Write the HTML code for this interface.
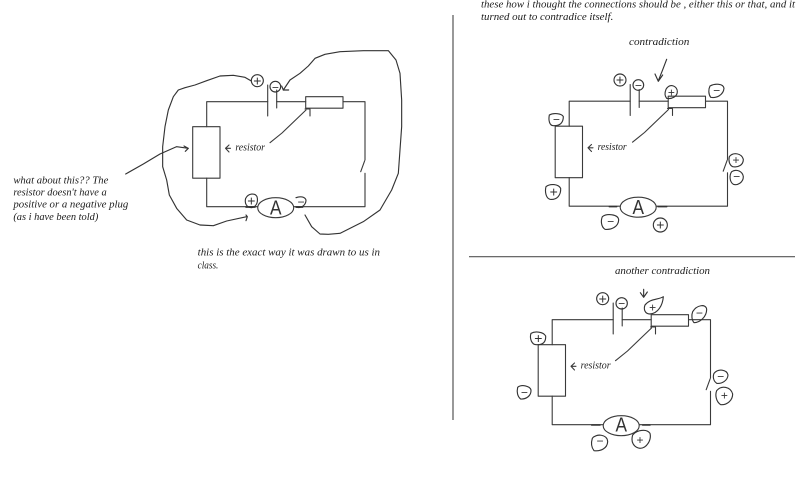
<!DOCTYPE html>
<html>
<head>
<meta charset="utf-8">
<style>
html,body{margin:0;padding:0;background:#fff;width:800px;height:487px;overflow:hidden}
svg{display:block;filter:blur(.3px)}
text{font-family:"Liberation Serif",serif;font-style:italic;fill:#1c1c1c}
.z path,.z ellipse,.z circle,.z rect{fill:none;stroke:#333;stroke-width:3.4;stroke-linejoin:round;stroke-linecap:round}
.z .m{font-style:normal;font-family:"Liberation Sans",sans-serif;font-size:42px;text-anchor:middle;fill:#333}
.z .t{font-size:30px}
.a{font-family:"Liberation Sans",sans-serif;font-style:normal;font-size:20px;fill:#333}
</style>
</head>
<body>
<svg width="800" height="487" viewBox="0 0 800 487" xmlns="http://www.w3.org/2000/svg">
<defs>
<g id="circuit" fill="none" stroke="#3a3a3a" stroke-width="1.1" stroke-linecap="round" stroke-linejoin="round">
  <path d="M267.7 101.7H206.7V126.7M206.7 178V206.7H257.7M294 206.7H365V173.3M365 160V101.7H343M305.7 101.7H276.7"/>
  <path d="M360.7 171.7L364.7 160.7"/>
  <rect x="192.7" y="126.7" width="27.3" height="51.5"/>
  <rect x="305.7" y="96.7" width="37.3" height="11.5"/>
  <path d="M267.7 85V116M276.7 90V108"/>
  <ellipse cx="275.7" cy="207.7" rx="18" ry="10"/>
  <path d="M270 142.7L282 133L306 110M305 109L310 109V116"/>
  <path d="M230.5 148.3H225.5M229 145L225.5 148.3L229 152"/>
</g>
</defs>

<rect width="800" height="487" fill="#fff"/>
<path d="M453 15V420" stroke="#555" stroke-width="1.2" fill="none"/>
<path d="M469 256.7H795" stroke="#555" stroke-width="1.2" fill="none"/>

<use href="#circuit"/>
<use href="#circuit" x="362.5" y="-0.5"/>
<use href="#circuit" x="345.5" y="218"/>

<text class="a" x="270" y="214.5" textLength="11.5" lengthAdjust="spacingAndGlyphs">A</text>
<text class="a" x="632.5" y="214" textLength="11.5" lengthAdjust="spacingAndGlyphs">A</text>
<text class="a" x="615.5" y="431.5" textLength="11.5" lengthAdjust="spacingAndGlyphs">A</text>

<!-- Panel 1 -->
<g class="z" transform="translate(0,40) scale(.33333)">
  <path d="M752 122L735 112L700 106L660 108L620 122L585 135L555 143L535 150L520 170L505 210L495 260L488 320L488 380L500 420L508 465L530 505L560 540L600 555L640 557L680 543L740 530M738 525L742 530L738 542"/>
  <path d="M850 150L870 120L900 100L925 78L945 55L975 43L1020 35L1090 32L1165 32L1188 60L1200 100L1205 180L1205 260L1200 330L1195 400L1175 450L1140 510L1090 545L1020 580L985 583L960 582L935 560L915 525"/>
  <path d="M850 150L845 138M850 150L866 150"/>
  <path d="M377 402L430 372L480 342L530 320L565 325M552 318L565 325L556 334"/>
  <circle cx="772" cy="122" r="18"/>
  <circle cx="826" cy="140" r="16"/>
  <path d="M737 475C745 460 765 458 771 470C775 485 770 500 755 503C740 503 733 490 737 475Z"/>
  <path d="M888 473C900 468 915 470 918 480C918 495 905 505 890 502"/>
  <path d="M738 501H765M888 501H908" style="stroke-width:5"/>
  <text class="m" x="772" y="136">+</text>
  <text class="m" x="826" y="154" style="font-size:36px">−</text>
  <text class="m" x="754" y="497">+</text>
  <text class="m" x="903" y="498" style="font-size:36px">−</text>
  <text class="t" x="706" y="332" textLength="89" lengthAdjust="spacingAndGlyphs">resistor</text>
  <text class="t" x="40" y="430" textLength="285" lengthAdjust="spacingAndGlyphs">what about this?? The</text>
  <text class="t" x="40" y="467" textLength="280" lengthAdjust="spacingAndGlyphs">resistor doesn't have a</text>
  <text class="t" x="40" y="503" textLength="345" lengthAdjust="spacingAndGlyphs">positive or a negative plug</text>
  <text class="t" x="40" y="540" textLength="255" lengthAdjust="spacingAndGlyphs">(as i have been told)</text>
  <text class="t" x="593" y="647" textLength="547" lengthAdjust="spacingAndGlyphs">this is the exact way it was drawn to us in</text>
  <text class="t" x="593" y="685" textLength="62" lengthAdjust="spacingAndGlyphs">class.</text>
</g>

<!-- Panel 2 -->
<g class="z" transform="translate(450,0) scale(.33333)">
  <text class="t" x="93" y="22" textLength="942" lengthAdjust="spacingAndGlyphs">these how i thought the connections should be , either this or that, and it</text>
  <text class="t" x="93" y="60" textLength="397" lengthAdjust="spacingAndGlyphs">turned out to contradice itself.</text>
  <text class="t" x="537" y="135" textLength="181" lengthAdjust="spacingAndGlyphs">contradiction</text>
  <text class="t" x="443" y="450" textLength="87" lengthAdjust="spacingAndGlyphs">resistor</text>
  <path d="M650 178C640 205 632 225 625 242M615 222L625 244L638 225"/>
  <circle cx="510" cy="240" r="18"/>
  <circle cx="565" cy="255" r="16"/>
  <path d="M648 268C660 248 682 258 682 275C682 290 665 298 650 295C644 288 644 278 648 268Z"/>
  <path d="M780 258C795 250 820 250 822 265C820 285 800 295 782 292C775 282 775 268 780 258Z"/>
  <path d="M298 345C310 338 335 340 340 350C340 368 330 378 310 377C298 377 295 360 298 345Z"/>
  <path d="M288 560C300 550 325 552 332 565C333 585 322 600 300 598C288 595 284 575 288 560Z"/>
  <path d="M838 470C850 455 875 460 880 478C880 495 865 503 848 500C838 495 835 482 838 470Z"/>
  <path d="M845 515C860 505 878 515 880 530C880 548 862 557 850 553C838 545 838 525 845 515Z"/>
  <path d="M457 650C470 640 505 642 506 660C505 680 485 690 465 688C453 680 452 662 457 650Z"/>
  <circle cx="631" cy="675" r="21"/>
  <path d="M478 620H500M624 620H650" style="stroke-width:4.5"/>
  <text class="m" x="510" y="254">+</text>
  <text class="m" x="565" y="269" style="font-size:36px">−</text>
  <text class="m" x="664" y="289" style="font-size:36px">+</text>
  <text class="m" x="800" y="284" style="font-size:36px">−</text>
  <text class="m" x="319" y="370" style="font-size:36px">−</text>
  <text class="m" x="311" y="589">+</text>
  <text class="m" x="858" y="492" style="font-size:36px">+</text>
  <text class="m" x="860" y="541" style="font-size:36px">−</text>
  <text class="m" x="482" y="677" style="font-size:36px">−</text>
  <text class="m" x="631" y="689">+</text>
</g>

<!-- Panel 3 -->
<g class="z" transform="translate(450,250) scale(.33333)">
  <text class="t" x="495" y="72" textLength="285" lengthAdjust="spacingAndGlyphs">another contradiction</text>
  <text class="t" x="392" y="356" textLength="90" lengthAdjust="spacingAndGlyphs">resistor</text>
  <path d="M581 118V142M571 128L581 142L592 126"/>
  <circle cx="458" cy="146" r="18"/>
  <circle cx="515" cy="160" r="17"/>
  <path d="M585 165C600 145 625 150 640 140C638 165 625 190 600 192C585 192 580 178 585 165Z"/>
  <path d="M728 185C740 165 768 160 770 178C770 200 750 218 732 218C725 210 724 195 728 185Z"/>
  <path d="M243 250C255 243 280 245 287 258C288 275 280 285 260 284C245 285 238 265 243 250Z"/>
  <path d="M203 412C215 402 240 408 243 420C244 438 228 448 212 447C202 440 200 425 203 412Z"/>
  <path d="M792 370C805 355 830 358 834 375C833 392 815 402 800 400C790 393 788 380 792 370Z"/>
  <path d="M800 422C815 405 842 410 848 432C848 452 830 466 812 464C798 455 795 435 800 422Z"/>
  <path d="M427 565C438 550 472 552 473 575C472 595 452 605 432 602C424 592 423 578 427 565Z"/>
  <path d="M548 555C560 540 590 535 600 550C605 570 590 595 570 595C550 592 542 575 548 555Z"/>
  <path d="M425 525H450M578 525H600" style="stroke-width:4.5"/>
  <text class="m" x="458" y="160">+</text>
  <text class="m" x="515" y="173" style="font-size:36px">−</text>
  <text class="m" x="608" y="184" style="font-size:36px">+</text>
  <text class="m" x="748" y="201" style="font-size:36px">−</text>
  <text class="m" x="265" y="279">+</text>
  <text class="m" x="223" y="439" style="font-size:36px">−</text>
  <text class="m" x="812" y="392" style="font-size:36px">−</text>
  <text class="m" x="823" y="448" style="font-size:36px">+</text>
  <text class="m" x="450" y="585" style="font-size:36px">−</text>
  <text class="m" x="570" y="582" style="font-size:36px">+</text>
</g>
</svg>
</body>
</html>
